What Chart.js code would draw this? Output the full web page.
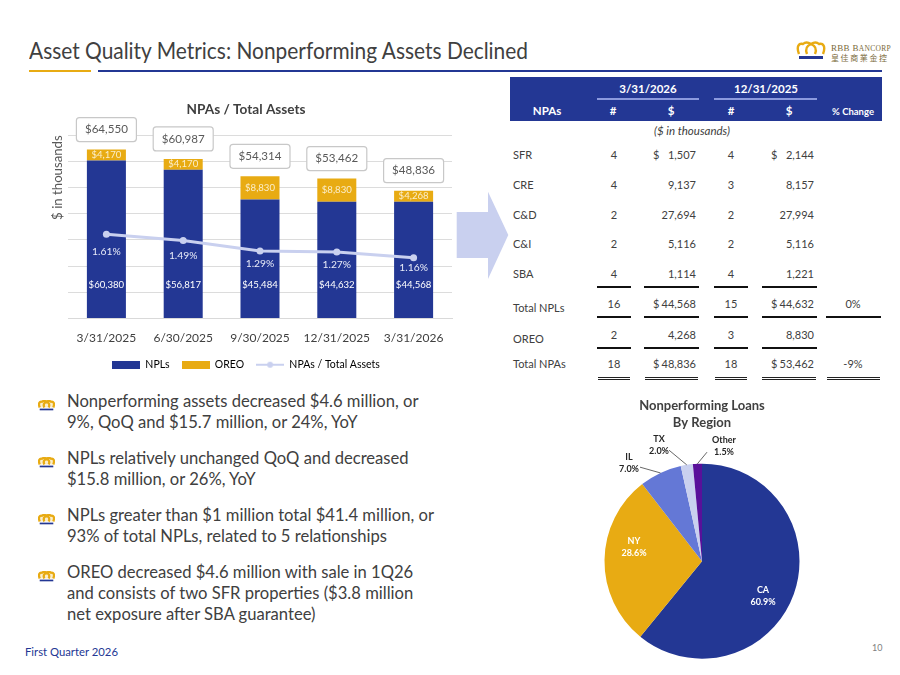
<!DOCTYPE html>
<html>
<head>
<meta charset="utf-8">
<script src="https://cdn.jsdelivr.net/npm/chart.js@4"></script>
<style>
  html, body { margin: 0; padding: 0; background: #fff; }
  #page { position: relative; width: 900px; height: 675px; overflow: hidden; font-family: Lato, "Noto Sans", sans-serif; color: #404040; }
  #page div, #page span { position: absolute; white-space: nowrap; }
  canvas { position: absolute; }
  .bullet { font-size: 16.6px; line-height: 21px; color: #404040; }
  .cell { font-size: 11px; color: #404040; transform: translateY(-50%); }
  .head { font-size: 11.5px; font-weight: 700; color: #fff; transform: translate(-50%,-50%); }
</style>
</head>
<body>
<div id="page">
  <div style="left:29px;top:37px;font-size:22.6px;color:#404040;transform:scaleX(.925);transform-origin:left" id="title">Asset Quality Metrics: Nonperforming Assets Declined</div>
  <div style="left:29px;top:70px;width:62px;height:2px;background:#e8ab13"></div>
  <div style="left:98px;top:70px;width:784px;height:2px;background:#233794"></div>

  <svg style="position:absolute;left:796px;top:41px" width="30" height="19" viewBox="0 0 30 19">
    <path d="M3 13 C0 5 3 2 7 3 C9 1 12 1 15 3 C18 1 21 1 23 3 C27 2 30 5 27 13" fill="none" stroke="#e8ab13" stroke-width="2.4"/>
    <path d="M11 13 C9 8 10 5 15 3 C20 5 21 8 19 13" fill="none" stroke="#e8ab13" stroke-width="2.4"/>
    <rect x="3" y="15" width="24" height="3" fill="#233794"/>
  </svg>
  <div style="left:831px;top:43px;font-size:9px;font-family:'Liberation Serif',serif;color:#7a6a3a;letter-spacing:.3px">RBB B<span style="position:static;font-size:7.5px">ANCORP</span></div>
  <div style="left:831px;top:52px;font-size:8px;font-family:'Noto Sans CJK TC';color:#7a6a3a;letter-spacing:1.6px">皇佳商業金控</div>

  <svg style="position:absolute;left:456px;top:188px" width="56" height="94" viewBox="0 0 56 94">
    <polygon points="0.7,24 32,24 32,3.7 52.3,47 32,91 32,70 0.7,70" fill="#c9d0ef"/>
  </svg>

  <canvas id="barChart" style="left:40px;top:95px" width="420" height="285"></canvas>
  <canvas id="pieChart" style="left:570px;top:390px" width="260" height="285"></canvas>
  <div id="npaTable"></div>
  <div id="bullets"></div>

  <div style="left:25px;top:645px;font-size:11.3px;color:#233794">First Quarter 2026</div>
  <div style="left:872px;top:642px;font-size:9px;color:#7f7f7f">10</div>
</div>

<script>
// bar chart data
const barLabels = ['3/31/2025', '6/30/2025', '9/30/2025', '12/31/2025', '3/31/2026'];
const npls = [60380, 56817, 45484, 44632, 44568];
const oreo = [4170, 4170, 8830, 8830, 4268];
const npaTotals = [64550, 60987, 54314, 53462, 48836];
const npaPercent = [1.61, 1.49, 1.29, 1.27, 1.16];

// pie chart data
const regions = ['CA', 'NY', 'IL', 'TX', 'Other'];
const regionShare = [60.9, 28.6, 7.0, 2.0, 1.5];

// table data
const tableRows = ['SFR', 'CRE', 'C&D', 'C&I', 'SBA', 'Total NPLs', 'OREO', 'Total NPAs'];
const count2026 = ['4', '4', '2', '2', '4', '16', '2', '18'];
const amount2026 = ['1,507', '9,137', '27,694', '5,116', '1,114', '44,568', '4,268', '48,836'];
const count2025 = ['4', '3', '2', '2', '4', '15', '3', '18'];
const amount2025 = ['2,144', '8,157', '27,994', '5,116', '1,221', '44,632', '8,830', '53,462'];
const pctChange = ['', '', '', '', '', '0%', '', '-9%'];
const dollarRows = [0, 5, 7];

const bulletLines = [
    ['Nonperforming assets decreased $4.6 million, or', '9%, QoQ and $15.7 million, or 24%, YoY'],
    ['NPLs relatively unchanged QoQ and decreased', '$15.8 million, or 26%, YoY'],
    ['NPLs greater than $1 million total $41.4 million, or', '93% of total NPLs, related to 5 relationships'],
    ['OREO decreased $4.6 million with sale in 1Q26', 'and consists of two SFR properties ($3.8 million', 'net exposure after SBA guarantee)']
];

const NAVY = '#233794';
const GOLD = '#e8ab13';
const PALE = '#c9d0ef';
const GREY = '#404040';
const FONT = 'Lato, "Noto Sans", sans-serif';

// small offsets so the % labels sit where the reference has them
const pctLabelDrop = [17, 15, 13, 13, 10];

function roundBox(ctx, x, y, w, h, r) {
    ctx.beginPath();
    ctx.roundRect(x, y, w, h, r);
    ctx.fillStyle = '#fff';
    ctx.fill();
    ctx.strokeStyle = '#c8c8c8';
    ctx.lineWidth = 1.2;
    ctx.stroke();
}

// legend swatches, the line one needs its dot
function swatch(color, isLine) {
    const c = document.createElement('canvas');
    c.width = 28;
    c.height = 8;
    const g = c.getContext('2d');
    g.fillStyle = color;
    if (isLine) {
        g.fillRect(0, 3, 28, 2);
        g.beginPath();
        g.arc(14, 4, 3, 0, Math.PI * 2);
        g.fill();
    } else {
        g.fillRect(0, 0, 28, 8);
    }
    return c;
}

const barLabelPlugin = {
    id: 'barLabelPlugin',
    afterDatasetsDraw(chart) {
        const ctx = chart.ctx;
        const yScale = chart.scales.y;
        const barMeta = chart.getDatasetMeta(0);
        const lineMeta = chart.getDatasetMeta(2);
        ctx.save();
        ctx.textAlign = 'center';
        ctx.textBaseline = 'middle';
        barLabels.forEach((label, i) => {
            const x = barMeta.data[i].x;
            ctx.fillStyle = '#fff';
            ctx.font = '9.6px ' + FONT;
            ctx.fillText('$' + npls[i].toLocaleString('en-US'), x, yScale.getPixelForValue(13000));
            ctx.fillStyle = '#fbeecb';
            ctx.fillText('$' + oreo[i].toLocaleString('en-US'), x, yScale.getPixelForValue(npls[i] + oreo[i] / 2));
            const pt = lineMeta.data[i];
            ctx.fillStyle = '#e8ebf8';
            ctx.font = '10.3px ' + FONT;
            ctx.fillText(npaPercent[i].toFixed(2) + '%', x, pt.y + pctLabelDrop[i]);
            const top = yScale.getPixelForValue(npaTotals[i]) - 8;
            roundBox(ctx, x - 30, top - 24, 60, 24, 3);
            ctx.fillStyle = '#595959';
            ctx.font = '11.6px ' + FONT;
            ctx.fillText('$' + npaTotals[i].toLocaleString('en-US'), x, top - 12);
        });
        ctx.restore();
    }
};

new Chart(document.getElementById('barChart').getContext('2d'), {
    type: 'bar',
    data: {
        labels: barLabels,
        datasets: [
            { label: 'NPLs', data: npls, backgroundColor: NAVY, stack: 'npa', order: 1, categoryPercentage: 0.508, barPercentage: 1 },
            { label: 'OREO', data: oreo, backgroundColor: GOLD, stack: 'npa', order: 2, categoryPercentage: 0.508, barPercentage: 1 },
            {
                type: 'line', label: 'NPAs / Total Assets', data: npaPercent, yAxisID: 'y1', order: 0,
                borderColor: PALE, backgroundColor: PALE, borderWidth: 3, pointRadius: 3.5, pointBackgroundColor: PALE, pointBorderWidth: 0
            }
        ]
    },
    plugins: [barLabelPlugin],
    options: {
        responsive: false,
        animation: false,
        layout: { padding: { right: 8, top: 0, bottom: 0 } },
        scales: {
            x: {
                stacked: true,
                grid: { display: false },
                border: { color: '#d9d9d9' },
                afterFit(scale) { scale.height = 29; },
                ticks: { color: GREY, font: { family: FONT, size: 12 }, padding: 4, maxRotation: 0, autoSkip: false }
            },
            y: {
                stacked: true, min: 0, max: 70000,
                afterFit(scale) { scale.width = 28; },
                ticks: { stepSize: 10000, display: false },
                grid: { color: '#dcdcdc', drawTicks: false },
                border: { display: false },
                title: { display: true, text: '$ in thousands', align: 'end', color: '#595959', font: { family: FONT, size: 13.2 }, padding: { top: 10, bottom: 0 } }
            },
            y1: { display: false, min: 0, max: 3.5 }
        },
        plugins: {
            title: { display: true, text: 'NPAs / Total Assets', color: GREY, font: { family: FONT, size: 13.6, weight: '700' }, padding: { top: 6, bottom: 18 } },
            tooltip: { enabled: false },
            legend: {
                position: 'bottom',
                labels: {
                    color: GREY, font: { family: FONT, size: 10.5 }, usePointStyle: true, pointStyleWidth: 28, padding: 12,
                    generateLabels() {
                        return [
                            { text: 'NPLs', pointStyle: swatch(NAVY, false), lineWidth: 0 },
                            { text: 'OREO', pointStyle: swatch(GOLD, false), lineWidth: 0 },
                            { text: 'NPAs / Total Assets', pointStyle: swatch(PALE, true), lineWidth: 0 }
                        ];
                    }
                }
            }
        }
    }
});

// label spots relative to the pie centre
const pieLabelSpots = [[61, 35], [-68, -14], [-73, -98], [-43, -116], [22, -115]];
const pieLeaderEnds = [null, null, [-62, -94], [-33, -111], [5, -109]];

const pieLabelPlugin = {
    id: 'pieLabelPlugin',
    afterDatasetsDraw(chart) {
        const ctx = chart.ctx;
        const arcs = chart.getDatasetMeta(0).data;
        ctx.save();
        ctx.textAlign = 'center';
        ctx.textBaseline = 'middle';
        arcs.forEach((arc, i) => {
            const spot = pieLabelSpots[i];
            const lx = arc.x + spot[0];
            const ly = arc.y + spot[1];
            const outside = pieLeaderEnds[i] !== null;
            if (outside) {
                const mid = (arc.startAngle + arc.endAngle) / 2;
                ctx.beginPath();
                ctx.moveTo(arc.x + Math.cos(mid) * arc.outerRadius, arc.y + Math.sin(mid) * arc.outerRadius);
                ctx.lineTo(arc.x + pieLeaderEnds[i][0], arc.y + pieLeaderEnds[i][1]);
                ctx.strokeStyle = '#404040';
                ctx.lineWidth = 0.8;
                ctx.stroke();
            }
            ctx.fillStyle = outside ? '#262626' : '#fff';
            ctx.font = '700 9px ' + FONT;
            ctx.fillText(regions[i], lx, ly - 6);
            ctx.fillText(regionShare[i].toFixed(1) + '%', lx, ly + 6);
        });
        ctx.restore();
    }
};

new Chart(document.getElementById('pieChart').getContext('2d'), {
    type: 'pie',
    data: {
        labels: regions,
        datasets: [{
            data: regionShare,
            backgroundColor: [NAVY, GOLD, '#6478d6', PALE, '#59109a'],
            borderWidth: 0,
            radius: 97.5
        }]
    },
    plugins: [pieLabelPlugin],
    options: {
        responsive: false,
        animation: false,
        layout: { padding: { left: 34, right: 30, bottom: 19 } },
        plugins: {
            legend: { display: false },
            tooltip: { enabled: false },
            title: {
                display: true,
                text: ['Nonperforming Loans', 'By Region'],
                color: GREY,
                font: { family: FONT, size: 13, weight: '700', lineHeight: 1.32 },
                padding: { top: 7, bottom: 35 }
            }
        }
    }
});

// table, built from the arrays above
const rowY = [154, 184, 213.5, 243, 272.5, 303, 333.5, 363];
const labelY = [154, 184, 213.5, 243, 272.5, 307, 337.5, 363];
const page = document.getElementById('page');

function addEl(className, text, css) {
    const el = document.createElement('div');
    el.className = className;
    el.textContent = text;
    Object.assign(el.style, css);
    page.appendChild(el);
    return el;
}

function addRule(x1, x2, y, h, color) {
    addEl('', '', { left: x1 + 'px', top: y + 'px', width: (x2 - x1) + 'px', height: h + 'px', background: color });
}

addRule(510, 882, 77, 44, NAVY);
[['3/31/2026', 648, 88], ['12/31/2025', 766, 88], ['NPAs', 547, 110], ['#', 613, 110], ['$', 671, 110], ['#', 731, 110], ['$', 789, 110]].forEach(h => {
    addEl('head', h[0], { left: h[1] + 'px', top: h[2] + 'px' });
});
addEl('head', '% Change', { left: '853px', top: '110.5px', fontSize: '9.5px' });
addRule(597, 699, 98, 2, '#8c9ade');
addRule(714, 817, 98, 2, '#8c9ade');
addEl('cell', '($ in thousands)', { left: '654px', top: '130px', fontStyle: 'italic', fontSize: '11.5px' });

tableRows.forEach((name, i) => {
    const y = rowY[i] + 'px';
    addEl('cell', name, { left: '513px', top: labelY[i] + 'px' });
    addEl('cell', count2026[i], { left: '614px', top: y, transform: 'translate(-50%,-50%)' });
    addEl('cell', amount2026[i], { right: (900 - 696) + 'px', top: y });
    addEl('cell', count2025[i], { left: '731px', top: y, transform: 'translate(-50%,-50%)' });
    addEl('cell', amount2025[i], { right: (900 - 814) + 'px', top: y });
    addEl('cell', pctChange[i], { left: '853px', top: y, transform: 'translate(-50%,-50%)' });
    if (dollarRows.includes(i)) {
        addEl('cell', '$', { left: '653px', top: y });
        addEl('cell', '$', { left: '771px', top: y });
    }
});

const ruleCols = [[597, 631], [644, 699], [714, 748], [762, 817]];
[286, 316, 346.5].forEach(y => ruleCols.forEach(c => addRule(c[0], c[1], y, 2, '#111')));
addRule(826, 881, 316, 2, '#111');
[[598, 630], [645, 698], [715, 747], [762, 816], [827, 880]].forEach(c => {
    addRule(c[0], c[1], 376.5, 1, '#222');
    addRule(c[0], c[1], 379, 1, '#222');
});

// bullets
const bulletTop = [390.5, 447.5, 504.5, 561.5];
const crown = '<svg xmlns="http://www.w3.org/2000/svg" width="17" height="11" viewBox="0 0 30 19">' +
    '<path d="M3 13 C0 5 3 2 7 3 C9 1 12 1 15 3 C18 1 21 1 23 3 C27 2 30 5 27 13" fill="#fbeecb" stroke="#e8ab13" stroke-width="4"/>' +
    '<path d="M11 13 C9 8 10 5 15 3 C20 5 21 8 19 13" fill="none" stroke="#e8ab13" stroke-width="4"/>' +
    '<rect x="3" y="15" width="24" height="3" fill="#233794"/></svg>';
bulletLines.forEach((lines, b) => {
    const icon = addEl('', '', { left: '38px', top: (bulletTop[b] + 4) + 'px' });
    icon.innerHTML = crown;
    lines.forEach((line, i) => {
        addEl('bullet', line, { left: '67px', top: (bulletTop[b] + i * 21) + 'px' });
    });
});
</script>
</body>
</html>
